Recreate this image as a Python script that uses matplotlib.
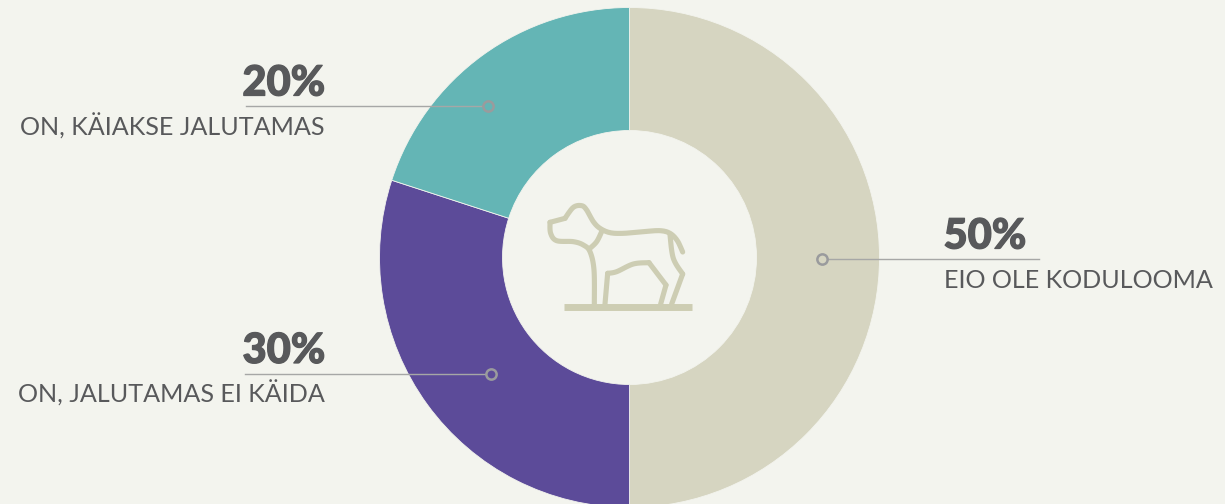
import matplotlib
matplotlib.use("Agg")
import matplotlib.pyplot as plt
import matplotlib.patheffects as pe
import numpy as np

W, H = 1225, 504
BG = '#f3f4ee'
TEXT = '#58595b'
ICON = '#cdcdb3'

labels = ['EIO OLE KODULOOMA', 'ON, JALUTAMAS EI KÄIDA', 'ON, KÄIAKSE JALUTAMAS']
values = [50, 30, 20]
colors = ['#d6d5c1', '#5c4b99', '#64b5b5']

plt.rcParams['font.family'] = ['Lato', 'DejaVu Sans']

fig = plt.figure(figsize=(W / 100, H / 100), dpi=100, facecolor=BG)
ax = fig.add_axes([0, 0, 1, 1])


def py(y):
    # picture pixels count from the top
    return H - y


def smooth(pts, n=12):
    # catmull-rom through the traced points, the icon has round curves
    pts = np.array(pts, dtype=float)
    p = np.vstack([pts[0], pts, pts[-1]])
    out = []
    for i in range(1, len(p) - 2):
        for t in np.linspace(0, 1, n, endpoint=False):
            out.append(0.5 * (2 * p[i] + (p[i + 1] - p[i - 1]) * t
                              + (2 * p[i - 1] - 5 * p[i] + 4 * p[i + 1] - p[i + 2]) * t ** 2
                              + (3 * p[i] - p[i - 1] - 3 * p[i + 1] + p[i + 2]) * t ** 3))
    out.append(pts[-1])
    return np.array(out)


ax.pie(values, colors=colors, startangle=90, counterclock=False,
       center=(629.5, py(257.5)), radius=250,
       wedgeprops=dict(width=123, edgecolor=BG, linewidth=0.6))
ax.set_xlim(0, W)
ax.set_ylim(0, H)
ax.set_aspect('auto')
ax.axis('off')

# callouts: line start, dot, line y, text anchor, text alignment, slice
callouts = [
    (1039, 822, 259, 943.5, 'left', 0),
    (245, 491, 373.5, 325, 'right', 1),
    (246, 488, 106, 325, 'right', 2),
]
for x0, xd, yl, xt, ha, i in callouts:
    ax.plot([x0, xd], [py(yl), py(yl)], color='#a6a7a6', lw=1.0, zorder=4)
    ax.plot([xd], [py(yl)], 'o', ms=7.4, mfc=colors[i], mec='#9a9b9d', mew=1.8, zorder=5)
    pct = ax.text(xt, py(yl - 10.5), '%d%%' % values[i], ha=ha, va='baseline', color=TEXT,
                  fontsize=30, fontweight='black')
    # the reference digits are heavier than Lato Black
    pct.set_path_effects([pe.withStroke(linewidth=0.9, foreground=TEXT)])
    ax.text(xt, py(yl + 29.5), labels[i], ha=ha, va='baseline', color=TEXT,
            fontsize=18.1, fontweight='regular')

# dog icon, traced in pixels of the 3x crop at (530, 190)
dog = [
    [(458, 186), (442, 152), (420, 130), (390, 122), (340, 125), (280, 130), (240, 128),
     (210, 115), (190, 95), (170, 60), (155, 47), (130, 52), (105, 85)],
    [(105, 85), (60, 97)],
    [(60, 97), (62, 130), (80, 152), (130, 155), (160, 165), (180, 185), (192, 240), (193, 342)],
    [(215, 125), (200, 155), (180, 175)],
    [(225, 342), (233, 250)],
    [(233, 250), (260, 245), (310, 222), (357, 218)],
    [(357, 218), (408, 285)],
    [(408, 285), (392, 342)],
    [(425, 342), (458, 252)],
    [(458, 252), (430, 205), (420, 135)],
]
for stroke in dog:
    pts = smooth(stroke)
    ax.plot(530 + pts[:, 0] / 3, py(190 + pts[:, 1] / 3), color=ICON, lw=3.7,
            solid_joinstyle='round', solid_capstyle='round', zorder=6)
ax.plot([530 + 102 / 3, 530 + 486 / 3], [py(190 + 352 / 3)] * 2, color=ICON, lw=5,
        solid_capstyle='butt', zorder=7)

fig.savefig('out.png', dpi=100, facecolor=BG)
